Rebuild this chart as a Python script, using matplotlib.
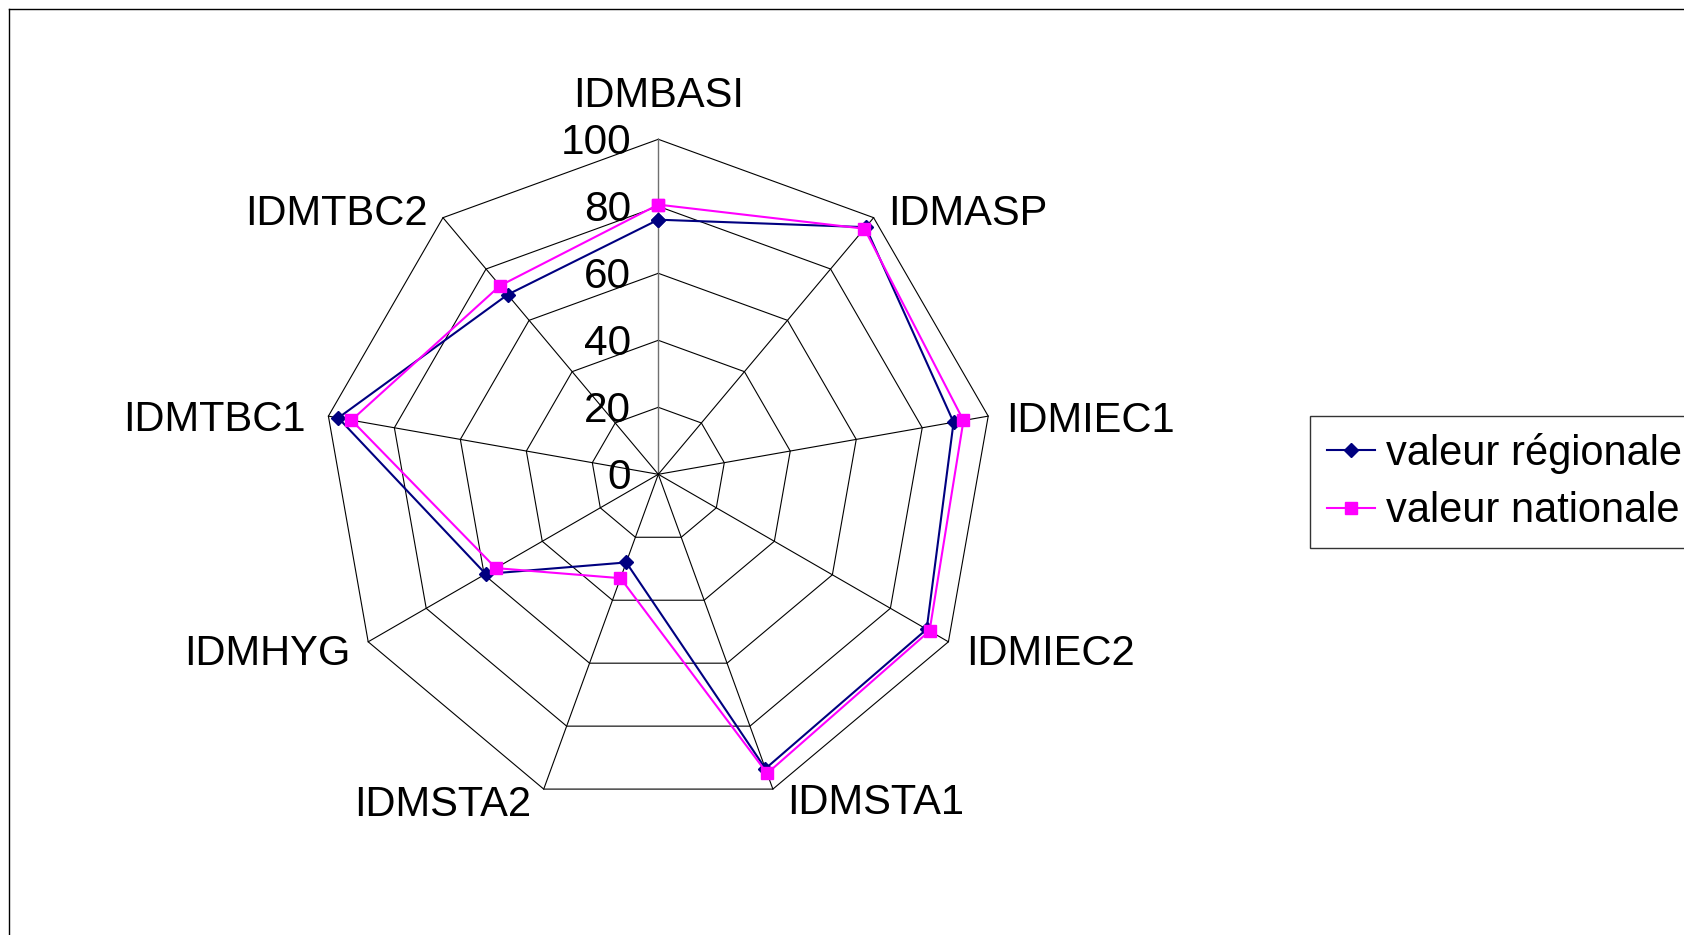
import numpy as np
import matplotlib.pyplot as plt
from matplotlib.lines import Line2D

categories = ["IDMBASI", "IDMASP", "IDMIEC1", "IDMIEC2", "IDMSTA1",
              "IDMSTA2", "IDMHYG", "IDMTBC1", "IDMTBC2"]
regional = [76, 96.3, 89.5, 92.5, 93.5, 28, 59.5, 97, 70]
national = [80.5, 95.7, 92.5, 93.5, 95, 33, 56, 93, 73.5]
ticks = [0, 20, 40, 60, 80, 100]

plt.rcParams['font.family'] = ['Liberation Sans', 'DejaVu Sans']

W, H = 1684, 935
cx, cy = 658.3, 474.3      # centre in pixels (from top-left)
scale = 3.35               # pixels per value unit

fig = plt.figure(figsize=(W / 100, H / 100), dpi=100)
ax = fig.add_axes([0, 0, 1, 1])
ax.set_xlim(-cx / scale, (W - cx) / scale)
ax.set_ylim(-(H - cy) / scale, cy / scale)
ax.axis('off')

n = len(categories)
theta = np.deg2rad(np.arange(n) * 360 / n)


def to_xy(values):
    r = np.asarray(values, dtype=float)
    return r * np.sin(theta), r * np.cos(theta)


# polygon grid
for t in ticks[1:]:
    gx, gy = to_xy(np.full(n, t))
    ax.plot(np.append(gx, gx[0]), np.append(gy, gy[0]), color='black', lw=0.8, zorder=1)

# spokes
ox, oy = to_xy(np.full(n, ticks[-1]))
for i in range(n):
    col = '#707070' if i == 0 else 'black'
    ax.plot([0, ox[i]], [0, oy[i]], color=col, lw=0.8 if i else 1.0, zorder=1)

# series
rx, ry = to_xy(regional)
nx, ny = to_xy(national)
l1, = ax.plot(np.append(rx, rx[0]), np.append(ry, ry[0]), color='#000080', lw=1.5,
              marker='D', markersize=7, zorder=3)
l2, = ax.plot(np.append(nx, nx[0]), np.append(ny, ny[0]), color='#FF00FF', lw=1.5,
              marker='s', markersize=8, zorder=4)

# category labels: offset (pixels) from the outer vertex, baseline anchored
offsets = [(0, 32, 'center'), (14, -7, 'left'), (18, -16, 'left'), (18, -23, 'left'),
           (14, -25, 'left'), (-12, -27, 'right'), (-18, -23, 'right'),
           (-23, -15, 'right'), (-15, -7, 'right')]
for i, name in enumerate(categories):
    dx, dy, ha = offsets[i]
    ax.annotate(name, xy=(ox[i], oy[i]), xytext=(dx, dy), textcoords='offset pixels',
                ha=ha, va='baseline', fontsize=30)

# value labels on the vertical axis
for t in ticks:
    ax.annotate(str(t), xy=(0, t), xytext=(-27, -15), textcoords='offset pixels',
                ha='right', va='baseline', fontsize=30.5)

# legend
leg = fig.legend([l1, l2], ["valeur régionale", "valeur nationale"],
                 loc='upper left', bbox_to_anchor=(1310 / W, 1 - 416 / H),
                 bbox_transform=fig.transFigure, borderaxespad=0,
                 fontsize=30, frameon=True, fancybox=False,
                 borderpad=0.4, handlelength=1.15, handletextpad=0.27,
                 labelspacing=0.42, markerscale=1.0)
leg.get_frame().set_edgecolor('black')
leg.get_frame().set_linewidth(1.0)

# outer chart frame (left and top edges visible)
fig.add_artist(Line2D([9 / W, 9 / W], [0, 1 - 8.5 / H], transform=fig.transFigure,
                      color='black', lw=1.0))
fig.add_artist(Line2D([9 / W, 1], [1 - 8.5 / H, 1 - 8.5 / H], transform=fig.transFigure,
                      color='black', lw=1.0))

fig.savefig('out.png', dpi=100)
